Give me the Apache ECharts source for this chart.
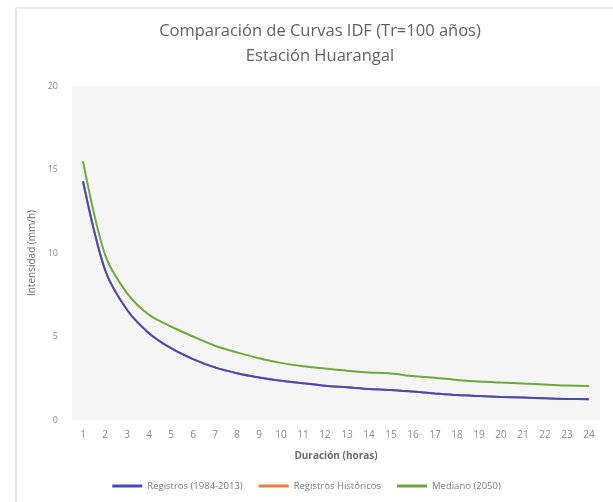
<!DOCTYPE html>
<html>
<head>
<meta charset="utf-8">
<script src="https://cdn.jsdelivr.net/npm/echarts@6/dist/echarts.min.js"></script>
<style>
  html, body { margin: 0; padding: 0; background: #fff; }
  #wrap { position: relative; width: 613px; height: 502px; }
  #frame { position: absolute; left: 15px; top: 7px; right: 0; bottom: 0;
           border-left: 2px solid #e4e4e4; border-top: 2px solid #ececec; pointer-events: none; }
  #chart { width: 613px; height: 502px; }
</style>
</head>
<body>
<div id="wrap">
  <div id="chart"></div>
  <div id="frame"></div>
</div>
<script>
// duraciones (horas)
const duracion = ['1','2','3','4','5','6','7','8','9','10','11','12','13','14','15','16','17','18','19','20','21','22','23','24']

// intensidades (mm/h)
const registros = [14.3, 9.0, 6.6, 5.2, 4.3, 3.65, 3.15, 2.8, 2.55, 2.35, 2.2, 2.05, 1.96, 1.86, 1.8, 1.7, 1.59, 1.49, 1.43, 1.38, 1.34, 1.3, 1.26, 1.24]
// queda tapada por la curva azul
const historicos = [14.3, 9.0, 6.6, 5.2, 4.3, 3.65, 3.15, 2.8, 2.55, 2.35, 2.2, 2.05, 1.96, 1.86, 1.8, 1.7, 1.59, 1.49, 1.43, 1.38, 1.34, 1.3, 1.26, 1.24]
const mediano = [15.5, 9.9, 7.6, 6.3, 5.6, 5.0, 4.45, 4.05, 3.7, 3.42, 3.22, 3.08, 2.95, 2.85, 2.78, 2.63, 2.53, 2.4, 2.3, 2.24, 2.19, 2.13, 2.06, 2.04]

const yTicks = [0, 5, 10, 15, 20]

const font = '"Open Sans", "Noto Sans", sans-serif'

const chart = echarts.init(document.getElementById('chart'))

const line = (name, data, color, z) => ({
  name,
  type: 'line',
  data,
  symbol: 'none',
  smooth: 0.3,
  z,
  lineStyle: { color, width: 2 },
  itemStyle: { color }
})

chart.setOption({
  animation: false,
  title: {
    text: 'Comparación de Curvas IDF (Tr=100 años)\nEstación Huarangal',
    left: 315,
    textAlign: 'center',
    top: 14,
    textStyle: { fontFamily: font, fontSize: 16.5, fontWeight: 'normal', color: '#5f5f5f', lineHeight: 25 }
  },
  legend: {
    bottom: 6,
    left: 'center',
    itemWidth: 30,
    itemHeight: 3,
    itemGap: 16,
    icon: 'rect',
    textStyle: { fontFamily: font, fontSize: 9.5, color: '#7a7a7a' },
    data: ['Registros (1984-2013)', 'Registros Históricos', 'Mediano (2050)']
  },
  grid: {
    left: 72, right: 13, top: 86, bottom: 82,
    show: true, backgroundColor: '#f5f5f5', borderWidth: 0
  },
  xAxis: {
    type: 'category',
    data: duracion,
    boundaryGap: true,
    name: 'Duración (horas)',
    nameLocation: 'middle',
    nameGap: 31,
    nameTextStyle: { fontFamily: font, fontSize: 10, fontWeight: 'bold', color: '#6a6a6a' },
    axisLine: { show: false },
    axisTick: { show: false },
    axisLabel: { fontFamily: font, fontSize: 10, color: '#8a8a8a', margin: 10, interval: 0 }
  },
  yAxis: {
    type: 'value',
    min: yTicks[0],
    max: yTicks[yTicks.length - 1],
    interval: 5,
    name: 'Intensidad (mm/h)',
    nameLocation: 'middle',
    nameGap: 35,
    nameTextStyle: { fontFamily: font, fontSize: 10, color: '#6a6a6a' },
    axisLine: { show: false },
    axisTick: { show: false },
    splitLine: { show: false },
    axisLabel: { fontFamily: font, fontSize: 9, color: '#8a8a8a', margin: 14 }
  },
  series: [
    line('Registros (1984-2013)', registros, '#4149c4', 4),
    line('Registros Históricos', historicos, '#ed7d31', 2),
    line('Mediano (2050)', mediano, '#70a83c', 3)
  ]
})
</script>
</body>
</html>
